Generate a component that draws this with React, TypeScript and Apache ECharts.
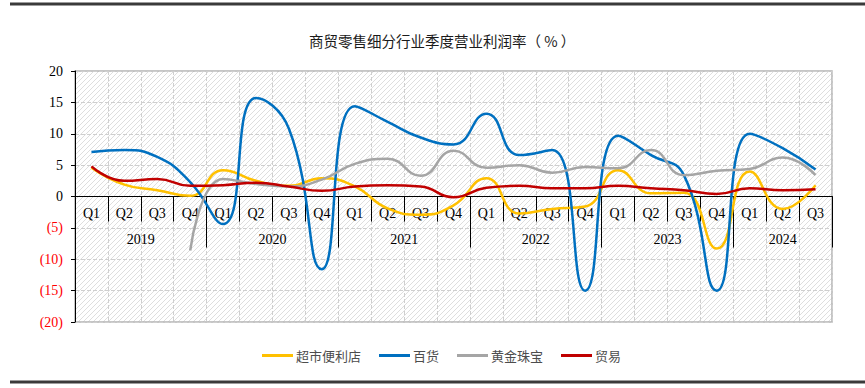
import React, { useEffect, useRef } from "react";
import * as echarts from "echarts";

const quarters = [
  "Q1", "Q2", "Q3", "Q4",
  "Q1", "Q2", "Q3", "Q4",
  "Q1", "Q2", "Q3", "Q4",
  "Q1", "Q2", "Q3", "Q4",
  "Q1", "Q2", "Q3", "Q4",
  "Q1", "Q2", "Q3",
];
const years = ["2019", "2020", "2021", "2022", "2023", "2024"];
const yearCenters = [2, 6, 10, 14, 18, 21.5];
const yearBounds = [0, 4, 8, 12, 16, 20, 23];

const supermarket = [4.6, 1.9, 1.0, 0.1, 4.2, 2.5, 1.7, 2.9, 1.6, -1.9, -2.9, -1.4, 2.9, -2.7, -2.0, -1.6, 4.2, 0.5, 0.6, -8.3, 4.0, -2.0, 1.8];
const department = [7.1, 7.4, 6.3, 2.3, -4.4, 15.7, 10.8, -11.6, 14.4, 11.9, 9.4, 8.3, 13.2, 6.6, 7.4, -15.0, 9.7, 6.6, 3.4, -15.0, 10.0, 7.7, 4.3];
const jewelry = [null, null, null, -8.6, 2.8, 2.0, 1.6, 2.7, 5.2, 6.0, 3.3, 7.3, 4.6, 5.0, 3.8, 4.7, 4.5, 7.4, 3.4, 4.1, 4.4, 6.2, 3.4];
const trade = [4.8, 2.5, 2.8, 1.7, 1.8, 2.2, 1.6, 0.9, 1.6, 1.8, 1.6, -0.1, 1.4, 1.7, 1.3, 1.3, 1.7, 1.3, 1.0, 0.4, 1.3, 1.0, 1.15];

const seriesNames = ["超市便利店", "百货", "黄金珠宝", "贸易"];
const seriesColors = ["#FFC000", "#0070C0", "#A5A5A5", "#C00000"];

const SERIF = "'Liberation Serif', 'Times New Roman', serif";
const SANS = "'Noto Sans CJK SC', 'Noto Sans', sans-serif";

const GRID_TOP = 71;
const GRID_BOTTOM = 66;
const CHART_H = 388;
const Y_MIN = -20;
const Y_MAX = 20;

function makeHatch(): HTMLCanvasElement {
  const c = document.createElement("canvas");
  c.width = 5;
  c.height = 5;
  const ctx = c.getContext("2d");
  if (ctx) {
    ctx.fillStyle = "#ffffff";
    ctx.fillRect(0, 0, 5, 5);
    ctx.strokeStyle = "#d6d6d6";
    ctx.lineWidth = 0.8;
    ctx.beginPath();
    ctx.moveTo(-1, 6);
    ctx.lineTo(6, -1);
    ctx.moveTo(-1, 1);
    ctx.lineTo(1, -1);
    ctx.moveTo(4, 6);
    ctx.lineTo(6, 4);
    ctx.stroke();
  }
  return c;
}

export default function App() {
  const ref = useRef<HTMLDivElement>(null);

  useEffect(() => {
    if (!ref.current) return;
    const chart = echarts.init(ref.current, null, { renderer: "svg" });
    const hatch = makeHatch();
    const dataSets = [supermarket, department, jewelry, trade];

    // axis sits on y = 0: offset from the grid bottom, derived from the y range
    const plotH = CHART_H - GRID_TOP - GRID_BOTTOM;
    const zeroOffset = -plotH * ((0 - Y_MIN) / (Y_MAX - Y_MIN));

    chart.setOption({
      animation: false,
      backgroundColor: "#ffffff",
      title: {
        text: "商贸零售细分行业季度营业利润率（ % ）",
        left: 304,
        top: 28,
        textStyle: { fontSize: 14.5, fontWeight: "normal", color: "#1a1a1a", fontFamily: SANS },
      },
      legend: {
        top: 344,
        left: 257,
        icon: "rect",
        itemWidth: 31,
        itemHeight: 3,
        itemGap: 18,
        textStyle: { fontSize: 13, color: "#4d4d4d", fontFamily: SANS, padding: [0, 0, 0, -2] },
        data: seriesNames,
      },
      grid: {
        left: 75,
        right: 33,
        top: GRID_TOP,
        bottom: GRID_BOTTOM,
        show: true,
        borderColor: "#b4b4b4",
        borderWidth: 1.5,
        backgroundColor: { image: hatch, repeat: "repeat", imageWidth: 5, imageHeight: 5 },
      },
      graphic: [
        { type: "line", shape: { x1: 10, y1: 4, x2: 865, y2: 4 }, style: { stroke: "#3a3a3a", lineWidth: 3 } },
        { type: "line", shape: { x1: 10, y1: 382, x2: 865, y2: 382 }, style: { stroke: "#3a3a3a", lineWidth: 3 } },
      ],
      xAxis: [
        {
          type: "category",
          data: quarters,
          boundaryGap: true,
          position: "bottom",
          offset: zeroOffset,
          axisLine: { onZero: false, lineStyle: { color: "#000", width: 1 } },
          axisTick: { show: true, interval: 0, length: 25, lineStyle: { color: "#000", width: 1 } },
          axisLabel: { interval: 0, margin: 10, color: "#000", fontSize: 14, fontFamily: SERIF },
          splitLine: { show: true, interval: 0, lineStyle: { color: "#cfcfcf", type: "dashed", width: 1 } },
        },
        {
          type: "value",
          min: 0,
          max: 23,
          position: "bottom",
          offset: zeroOffset,
          axisLine: { show: true, onZero: false, lineStyle: { color: "#000", width: 1 } },
          axisTick: {
            show: true,
            customValues: yearBounds,
            length: 51,
            lineStyle: { color: "#000", width: 1 },
          },
          axisLabel: {
            show: true,
            customValues: yearCenters,
            margin: 36,
            color: "#000",
            fontSize: 14,
            fontFamily: SERIF,
            formatter: (v: number) => {
              const i = yearCenters.indexOf(v);
              return i >= 0 ? years[i] : "";
            },
          },
          splitLine: { show: false },
        },
      ],
      yAxis: {
        type: "value",
        min: Y_MIN,
        max: Y_MAX,
        interval: 5,
        axisLine: { show: true, onZero: false, lineStyle: { color: "#000", width: 1 } },
        axisTick: { show: true, length: 4, lineStyle: { color: "#000" } },
        axisLabel: {
          margin: 12,
          fontSize: 14,
          fontFamily: SERIF,
          color: (v: any) => (Number(v) < 0 ? "#FF0000" : "#000000"),
          formatter: (v: number) => (v < 0 ? `(${-v})` : `${v}`),
        },
        splitLine: { show: true, lineStyle: { color: "#cfcfcf", type: "dashed", width: 1 } },
      },
      series: seriesNames.map((name, i) => ({
        name,
        type: "line",
        xAxisIndex: 0,
        data: dataSets[i],
        smooth: 0.5,
        symbol: "none",
        showSymbol: false,
        lineStyle: { color: seriesColors[i], width: 2.5 },
        itemStyle: { color: seriesColors[i] },
        z: 3 + i,
      })),
    });

    return () => {
      chart.dispose();
    };
  }, []);

  return (
    <div
      ref={ref}
      style={{ position: "fixed", left: 0, top: 0, width: 865, height: 388 }}
    />
  );
}
